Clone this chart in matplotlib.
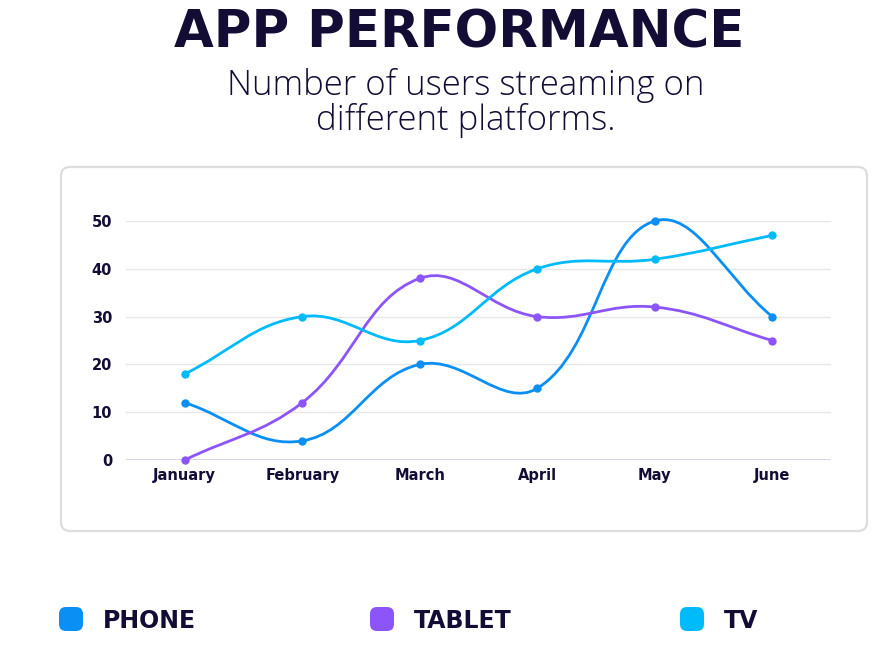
import numpy as np
import matplotlib
matplotlib.use("Agg")
import matplotlib.pyplot as plt
from matplotlib.path import Path
from matplotlib.patches import PathPatch, FancyBboxPatch
from matplotlib.transforms import IdentityTransform

# data
months = ["January", "February", "March", "April", "May", "June"]
phone = [12, 4, 20, 15, 50, 30]
tablet = [0, 12, 38, 30, 32, 25]
tv = [18, 30, 25, 40, 42, 47]
y_ticks = [0, 10, 20, 30, 40, 50]
series_names = ["PHONE", "TABLET", "TV"]

DARK = "#130c35"
colors = ["#0a8ff5", "#8c55fa", "#00bbfb"]

W, H = 878, 654
fig = plt.figure(figsize=(W / 100, H / 100), dpi=100)
fig.patch.set_facecolor("white")


def px(x0, y0, x1, y1):
    # pixel box (top-left origin) -> figure fraction [l, b, w, h]
    return [x0 / W, 1 - y1 / H, (x1 - x0) / W, (y1 - y0) / H]


# card behind the chart
card = FancyBboxPatch((61, H - 531), 806, 364,
                      boxstyle="round,pad=0,rounding_size=9",
                      transform=IdentityTransform(),
                      facecolor="white", edgecolor="#dddddd", linewidth=1.6,
                      zorder=-5)
fig.add_artist(card)

ax = fig.add_axes(px(126, 221, 831, 460))
ax.set_zorder(2)
ax.set_facecolor("none")
ax.set_xlim(-0.5, len(months) - 0.5)
ax.set_ylim(0, 50)
for s in ax.spines.values():
    s.set_visible(False)
ax.set_yticks(y_ticks)
ax.set_xticks(range(len(months)))
ax.set_xticklabels(months)
ax.tick_params(length=0, labelsize=10.5, colors=DARK, pad=10)
ax.tick_params(axis="x", pad=6)
for lab in ax.get_xticklabels() + ax.get_yticklabels():
    lab.set_fontweight("bold")
for t in y_ticks:
    ax.axhline(t, color="#cfcce0" if t == 0 else "#e6e6e6", lw=1.2 if t == 0 else 1, zorder=0)


def spline_path(xs, ys, tension=0.4):
    # chart.js style bezier, computed in pixel space
    fig.canvas.draw()
    pts = ax.transData.transform(np.column_stack([xs, ys]))
    n = len(pts)
    verts = [pts[0]]
    codes = [Path.MOVETO]
    ctrl = []
    for i in range(n):
        p = pts[max(i - 1, 0)]
        c = pts[i]
        q = pts[min(i + 1, n - 1)]
        d01 = np.hypot(*(c - p))
        d12 = np.hypot(*(q - c))
        tot = d01 + d12
        s01 = d01 / tot if tot else 0
        s12 = d12 / tot if tot else 0
        fa, fb = tension * s01, tension * s12
        ctrl.append((c - fa * (q - p), c + fb * (q - p)))
    for i in range(n - 1):
        verts += [ctrl[i][1], ctrl[i + 1][0], pts[i + 1]]
        codes += [Path.CURVE4] * 3
    verts = ax.transData.inverted().transform(np.array(verts))
    return Path(verts, codes)


for vals, col in zip([phone, tablet, tv], colors):
    xs = np.arange(len(months))
    patch = PathPatch(spline_path(xs, vals), facecolor="none", edgecolor=col,
                      lw=2, clip_on=False, zorder=3)
    ax.add_patch(patch)
    ax.plot(xs, vals, "o", color=col, ms=5, clip_on=False, zorder=4)

# titles
fig.text(459 / W, 1 - 34 / H, "APP PERFORMANCE", ha="center", va="center",
         fontsize=37, fontweight="bold", color=DARK, family="DejaVu Sans")
fig.text(466 / W, 1 - 103 / H, "Number of users streaming on\ndifferent platforms.",
         ha="center", va="center", fontsize=25, color=DARK,
         family=["Open Sans", "DejaVu Sans"], fontweight=300, linespacing=1.03)

# legend
leg_x = [59, 370, 680]
for name, col, lx in zip(series_names, colors, leg_x):
    box = FancyBboxPatch((lx, H - 631), 24, 24,
                         boxstyle="round,pad=0,rounding_size=7",
                         transform=IdentityTransform(),
                         facecolor=col, edgecolor="none")
    fig.add_artist(box)
    fig.text((lx + 44) / W, 1 - 621 / H, name, ha="left", va="center",
             fontsize=17, fontweight="bold", color=DARK)

fig.savefig("out.png", dpi=100)
